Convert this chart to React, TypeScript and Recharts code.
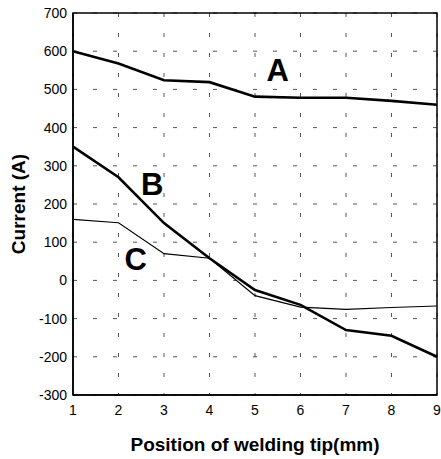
import React from "react";
import {
  LineChart,
  Line,
  XAxis,
  YAxis,
  CartesianGrid,
  ReferenceDot,
  ReferenceArea,
  Label,
} from "recharts";

// positions along the welding tip (mm)
const positions = [1, 2, 3, 4, 5, 6, 7, 8, 9];
// current curves (A)
const curveA = [600, 568, 524, 519, 481, 478, 478, 470, 460];
const curveB = [350, 270, 150, 58, -25, -64, -130, -145, -200];
const curveC = [160, 151, 70, 58, -40, -70, -76, -71, -67];

const yTicks = [-300, -200, -100, 0, 100, 200, 300, 400, 500, 600, 700];

// where the curve names sit, in data coordinates
const curveLabels = [
  { name: "A", x: 5.5, y: 551 },
  { name: "B", x: 2.74, y: 252 },
  { name: "C", x: 2.38, y: 56 },
];

const data = positions.map((p, i) => ({
  pos: p,
  A: curveA[i],
  B: curveB[i],
  C: curveC[i],
}));

const font = "'Liberation Sans', Arial, sans-serif";

export default function App() {
  return (
    <div style={{ position: "absolute", left: 0, top: 0, fontFamily: font }}>
      <LineChart
        width={441}
        height={459}
        data={data}
        margin={{ top: 13, right: 4, left: 0, bottom: 0 }}
      >
        <CartesianGrid stroke="#555" strokeDasharray="4 16" />
        <XAxis
          dataKey="pos"
          type="number"
          domain={[1, 9]}
          ticks={positions}
          height={64}
          tickLine={false}
          tickSize={6}
          tickMargin={4}
          axisLine={{ stroke: "#000", strokeWidth: 1.5 }}
          tick={{ fill: "#000", fontSize: 14, fontFamily: font }}
        >
          <Label
            value="Position of welding tip(mm)"
            position="insideBottom"
            offset={8}
            style={{ fill: "#000", fontSize: 19, fontWeight: "bold", fontFamily: font }}
          />
        </XAxis>
        <YAxis
          type="number"
          domain={[-300, 700]}
          ticks={yTicks}
          width={73}
          tickLine={false}
          tickSize={4}
          tickMargin={2}
          axisLine={{ stroke: "#000", strokeWidth: 1.5 }}
          tick={{ fill: "#000", fontSize: 14, fontFamily: font }}
        >
          <Label
            value="Current (A)"
            angle={-90}
            position="insideLeft"
            offset={18}
            style={{
              fill: "#000",
              fontSize: 19,
              fontWeight: "bold",
              fontFamily: font,
              textAnchor: "middle",
            }}
          />
        </YAxis>
        {/* plot frame */}
        <ReferenceArea
          x1={1}
          x2={9}
          y1={-300}
          y2={700}
          fill="none"
          fillOpacity={0}
          stroke="#000"
          strokeWidth={1.5}
        />
        <Line
          dataKey="A"
          stroke="#000"
          strokeWidth={2.6}
          dot={false}
          isAnimationActive={false}
        />
        <Line
          dataKey="B"
          stroke="#000"
          strokeWidth={2.6}
          dot={false}
          isAnimationActive={false}
        />
        <Line
          dataKey="C"
          stroke="#000"
          strokeWidth={1.2}
          dot={false}
          isAnimationActive={false}
        />
        {curveLabels.map((l) => (
          <ReferenceDot
            key={l.name}
            x={l.x}
            y={l.y}
            r={0}
            fill="none"
            stroke="none"
            label={{
              value: l.name,
              position: "center",
              fill: "#000",
              fontSize: 31,
              fontWeight: "bold",
              fontFamily: font,
            }}
          />
        ))}
      </LineChart>
    </div>
  );
}
